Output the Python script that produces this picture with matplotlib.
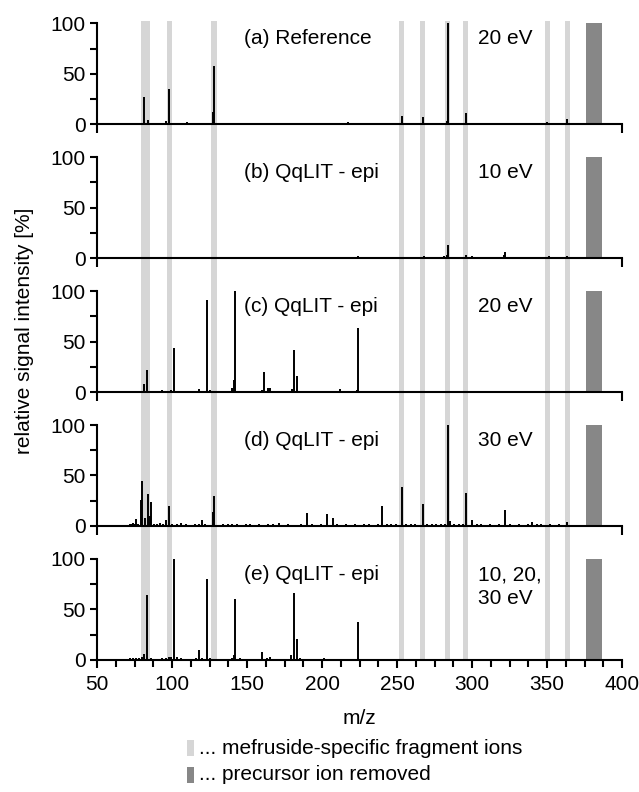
import matplotlib
matplotlib.use("Agg")
import matplotlib.pyplot as plt
from matplotlib.patches import Rectangle
from matplotlib.ticker import MultipleLocator, FixedLocator

plt.rcParams['font.family'] = ['Liberation Sans', 'DejaVu Sans']

# ---------------- data ----------------
panel_labels = ["(a) Reference", "(b) QqLIT - epi", "(c) QqLIT - epi", "(d) QqLIT - epi", "(e) QqLIT - epi"]
energy_labels = ["20 eV", "10 eV", "20 eV", "30 eV", "10, 20,\n30 eV"]

# mefruside-specific fragment ion windows (m/z start, m/z end)
frag_start = [79.5, 96.5, 126.0, 251.5, 265.3, 282.0, 294.0, 348.7, 362.0]
frag_end = [85.0, 100.0, 129.8, 254.8, 268.7, 285.5, 297.5, 352.0, 365.5]
# precursor removed window
prec_start, prec_end, prec_height = 376.0, 386.7, 100

mz_a = [79, 81, 84, 96, 98, 110, 127, 128, 217, 253, 267, 283, 284, 296, 350, 363]
int_a = [1.5, 27, 4, 3, 35, 2, 12, 58, 2, 8, 7, 3, 100, 11, 2, 5]

mz_b = [82, 129, 159, 165, 224, 241, 252, 262, 268, 278, 281, 283, 284, 296, 300,
        312, 321, 322, 340, 343, 346, 351, 357, 363, 370, 372]
int_b = [1, 1, 1, 1, 2, 1, 1, 1, 2, 1.5, 2, 3, 13, 3, 2,
         1, 3, 6, 1.5, 1.5, 1, 2, 1.5, 2, 1, 1]

mz_c = [74, 76, 78, 81, 83, 93, 97, 99, 101, 116, 118, 120, 123, 125, 136, 140, 141,
        142, 145, 160, 161, 164, 165, 180, 181, 183, 194, 201, 206, 210, 212, 214, 223, 224]
int_c = [1.5, 1.5, 1, 8, 22, 2, 1.5, 2, 44, 1, 3, 1.5, 91, 2, 1.5, 4, 12,
         100, 1.5, 2, 20, 4, 4, 3, 42, 16, 1, 1, 1, 1.5, 3, 1, 2, 63]

mz_d = [72, 73, 74, 75, 76, 77, 79, 80, 82, 84, 85, 86, 88, 90, 92, 94, 96, 98, 100,
        103, 106, 109, 112, 115, 118, 120, 122, 124, 127, 128, 131, 134, 137, 140, 143,
        146, 149, 152, 155, 158, 161, 164, 167, 171, 174, 177, 180, 183, 186, 190, 193,
        196, 199, 203, 207, 210, 213, 216, 219, 222, 225, 228, 231, 234, 237, 240, 243,
        246, 249, 253, 256, 259, 262, 264, 267, 270, 273, 276, 279, 282, 284, 285, 288,
        291, 294, 296, 300, 303, 306, 309, 312, 315, 318, 322, 325, 328, 331, 334, 337,
        340, 343, 346, 349, 352, 355, 358, 361, 363, 366]
int_d = [2, 2, 2.5, 2, 7, 2, 26, 45, 7.5, 32, 10, 24, 2, 1.5, 3, 2, 6, 20, 2,
         1.5, 3, 2, 1, 1.5, 2, 6, 1.5, 1, 14, 30, 1, 1.5, 2, 2, 1.5,
         1, 1.5, 2, 1, 1.5, 1, 2, 1.5, 3, 1, 1.5, 1, 1, 1.5, 13, 1.5,
         1, 1.5, 12, 8, 1.5, 1, 1.5, 1, 1.5, 1, 1.5, 2, 1, 1.5, 20, 1.5,
         2, 1.5, 39, 2, 1.5, 2, 1, 22, 2, 1.5, 2, 1.5, 2, 100, 5, 2,
         1.5, 2, 33, 6, 2, 1.5, 1, 1.5, 1, 2, 16, 1.5, 1, 1.5, 1, 1.5,
         4, 1.5, 2, 1, 1.5, 1, 1.5, 1, 4, 1]

mz_e = [72, 74, 76, 78, 80, 81, 83, 86, 89, 93, 96, 98, 99, 101, 103, 106, 110, 114,
        116, 118, 120, 123, 125, 128, 133, 137, 140, 141, 142, 145, 150, 155, 158, 160,
        163, 165, 168, 172, 176, 179, 181, 183, 185, 189, 194, 198, 201, 205, 208, 212,
        218, 224, 229, 232]
int_e = [1.5, 2, 1.5, 2, 3, 6, 64, 2, 1, 1.5, 2, 2.5, 3, 100, 3, 1.5, 1, 1,
         1.5, 10, 1.5, 80, 1.5, 1, 1, 1, 2, 5, 60, 1.5, 1, 1, 1, 8,
         1.5, 3, 1, 1, 1, 5, 66, 21, 1.5, 1, 1, 1, 1.5, 1, 1, 1,
         1, 37, 1, 1]

mz_list = [mz_a, mz_b, mz_c, mz_d, mz_e]
int_list = [int_a, int_b, int_c, int_d, int_e]

# ---------------- layout ----------------
W, H = 639, 792
fig = plt.figure(figsize=(W / 100, H / 100), dpi=100)

light = '#d6d6d6'
dark = '#878787'
FS = 15
ylo, yhi = -30.7, 102
ax_left_px, ax_w_px = 97, 525
top0, step = 21.3, 133.9

for i in range(5):
    top_px = top0 + step * i
    ax = fig.add_axes([ax_left_px / W, 1 - (top_px + step) / H, ax_w_px / W, step / H])
    ax.set_xlim(50, 400)
    ax.set_ylim(ylo, yhi)
    ax.patch.set_visible(False)
    band_lo = 0 if i == 4 else ylo
    for s, e in zip(frag_start, frag_end):
        ax.fill_between([s, e], band_lo, yhi, color=light, lw=0, zorder=0)
    ax.fill_between([prec_start, prec_end], 0, prec_height, color=dark, lw=0, zorder=0)
    ax.vlines(mz_list[i], 0, int_list[i], colors='black', lw=1.4, zorder=2)

    for sp in ['top', 'right']:
        ax.spines[sp].set_visible(False)
    ax.spines['bottom'].set_position(('data', 0))
    ax.spines['bottom'].set_bounds(50, 400)
    ax.spines['left'].set_bounds(0, 100)
    ax.spines['bottom'].set_linewidth(1.5)
    ax.spines['left'].set_linewidth(1.5)
    ax.spines['bottom'].set_zorder(3)

    ax.yaxis.set_major_locator(FixedLocator([0, 50, 100]))
    ax.yaxis.set_minor_locator(FixedLocator([25, 75]))
    ax.tick_params(axis='y', which='both', direction='out', length=5, width=1.5, labelsize=FS, pad=3)
    if i < 4:
        ax.xaxis.set_major_locator(FixedLocator([50, 400]))
        ax.set_xticklabels([])
        ax.tick_params(axis='x', which='major', direction='out', length=6.5, width=1.5)
    else:
        ax.xaxis.set_major_locator(MultipleLocator(50))
        ax.xaxis.set_minor_locator(MultipleLocator(12.5))
        ax.tick_params(axis='x', which='major', direction='out', length=6, width=1.5, labelsize=FS, pad=5)
        ax.tick_params(axis='x', which='minor', direction='out', length=5, width=1.5)

    ax.text(148, 85, panel_labels[i], fontsize=FS, ha='left', va='center')
    if i < 4:
        ax.text(304, 85, energy_labels[i], fontsize=FS, ha='left', va='center')
    else:
        ax.text(304, 72.5, energy_labels[i], fontsize=FS, ha='left', va='center', linespacing=1.25)

fig.text(25 / W, 1 - 331 / H, 'relative signal intensity [%]', rotation=90,
         ha='center', va='center', fontsize=FS)
fig.text(359.5 / W, 1 - 718 / H, 'm/z', ha='center', va='center', fontsize=FS)

legend_items = [(light, '... mefruside-specific fragment ions'), (dark, '... precursor ion removed')]
for k, (c, t) in enumerate(legend_items):
    yc = 748 + 27 * k
    fig.patches.append(Rectangle((187 / W, 1 - (yc + 8) / H), 7 / W, 16 / H,
                                 transform=fig.transFigure, color=c, lw=0))
    fig.text(199 / W, 1 - yc / H, t, ha='left', va='center', fontsize=FS)

fig.savefig('out.png', dpi=100)
